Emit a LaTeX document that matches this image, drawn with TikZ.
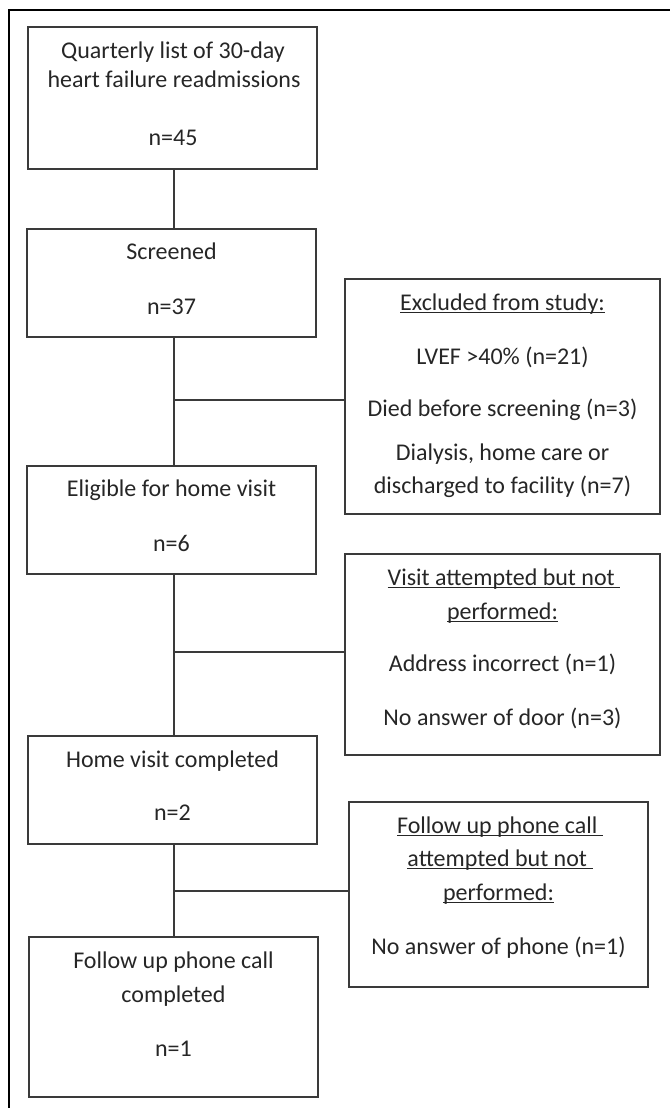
\documentclass[tikz,border=0pt]{standalone}
\usepackage{fontspec}
\setmainfont{Carlito}
\definecolor{boxc}{HTML}{3A3A3A}
\definecolor{txtc}{HTML}{262626}
\newcommand{\ulnx}[1]{\setbox0=\hbox{#1}\rlap{\rule[-3pt]{\wd0}{1.2pt}}\box0}
\begin{document}
\begin{tikzpicture}[x=1pt,y=-1pt,
  box/.style={draw=boxc, line width=1.3pt, inner sep=0pt, fill=none},
  lbl/.style={anchor=base, inner sep=0pt, text=txtc, font=\fontsize{24}{28}\selectfont},
  link/.style={draw=boxc, line width=1.3pt},
  frame/.style={draw=black, line width=2.3pt}]
\useasboundingbox (0,0) rectangle (670,1108);
% outer frame (left and top only)
\coordinate (fbl) at (9,1108);
\coordinate (ftl) at (9,10);
\coordinate (ftr) at (670,10);
\draw[frame] (fbl) -- (ftl) -- (ftr);
% main boxes
\node[box, minimum width=289pt, minimum height=142pt] (b1) at (172.5,98) {};
\node[box, minimum width=289pt, minimum height=108pt] (b2) at (171.5,283) {};
\node[box, minimum width=289pt, minimum height=108pt] (b3) at (171.5,520) {};
\node[box, minimum width=289pt, minimum height=108pt] (b4) at (172.5,790) {};
\node[box, minimum width=289pt, minimum height=160pt] (b5) at (173.5,1017) {};
% side boxes
\node[box, minimum width=315pt, minimum height=235pt] (e1) at (502.5,396.5) {};
\node[box, minimum width=315pt, minimum height=201pt] (e2) at (502.5,654.5) {};
\node[box, minimum width=299pt, minimum height=185pt] (e3) at (498.5,894.5) {};
% junctions on the trunk
\coordinate (j1) at (174,400);
\coordinate (j2) at (174,652);
\coordinate (j3) at (174,891);
% connectors
\draw[link] (b1.south -| j1) -- (b2.north -| j1);
\draw[link] (b2.south -| j1) -- (b3.north -| j1);
\draw[link] (b3.south -| j1) -- (b4.north -| j1);
\draw[link] (b4.south -| j1) -- (b5.north -| j1);
\draw[link] (j1) -- (j1 -| e1.west);
\draw[link] (j2) -- (j2 -| e2.west);
\draw[link] (j3) -- (j3 -| e3.west);
% texts of box 1
\node[lbl] (t1a) at (173,59) {Quarterly list of 30-day};
\node[lbl] (t1b) at (174,87) {heart failure readmissions};
\node[lbl] (t1c) at (173,145) {n=45};
% box 2
\node[lbl] (t2a) at (171.5,259) {Screened};
\node[lbl] (t2b) at (171.5,314) {n=37};
% excluded box
\node[lbl] (e1a) at (502.5,310) {\ulnx{Excluded from study:}};
\node[lbl] (e1b) at (502.5,364) {LVEF >40\% (n=21)};
\node[lbl] (e1c) at (502.5,416) {Died before screening (n=3)};
\node[lbl] (e1d) at (502.5,460) {Dialysis, home care or};
\node[lbl] (e1e) at (502.5,493) {discharged to facility (n=7)};
% box 3
\node[lbl] (t3a) at (171.5,496) {Eligible for home visit};
\node[lbl] (t3b) at (171.5,551) {n=6};
% visit box
\node[lbl] (e2a) at (504,585) {\ulnx{Visit attempted but not\ }};
\node[lbl] (e2b) at (502.5,619) {\ulnx{performed:}};
\node[lbl] (e2c) at (502.5,671) {Address incorrect (n=1)};
\node[lbl] (e2d) at (502.5,725) {No answer of door (n=3)};
% box 4
\node[lbl] (t4a) at (172.5,767) {Home visit completed};
\node[lbl] (t4b) at (172.5,820) {n=2};
% phone box
\node[lbl] (e3a) at (500,833) {\ulnx{Follow up phone call\ }};
\node[lbl] (e3b) at (500,866) {\ulnx{attempted but not\ }};
\node[lbl] (e3c) at (498.5,900) {\ulnx{performed:}};
\node[lbl] (e3d) at (498.5,954) {No answer of phone (n=1)};
% box 5
\node[lbl] (t5a) at (173.5,968) {Follow up phone call};
\node[lbl] (t5b) at (173.5,1002) {completed};
\node[lbl] (t5c) at (173.5,1056) {n=1};
\end{tikzpicture}
\end{document}
